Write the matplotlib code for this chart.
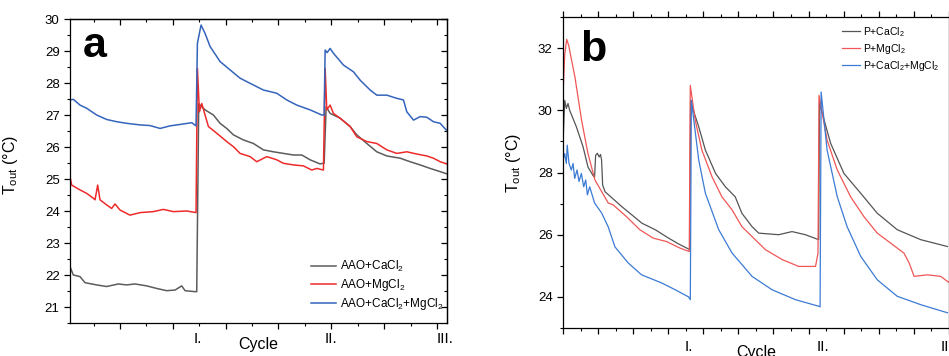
import matplotlib
matplotlib.use('Agg')
import matplotlib.pyplot as plt
from matplotlib.ticker import MultipleLocator, NullFormatter

plt.rcParams['font.family'] = ['Liberation Sans', 'DejaVu Sans']
plt.rcParams['mathtext.fontset'] = 'custom'
plt.rcParams['mathtext.rm'] = 'Liberation Sans'
plt.rcParams['mathtext.it'] = 'Liberation Sans:italic'
plt.rcParams['axes.linewidth'] = 0.9

# ---- panel a data (x: arbitrary time units, y: T_out in degC)
a_ca_x = [0.053, 0.116, 0.242, 0.337, 0.558, 0.747, 0.968, 1.126, 1.284, 1.505, 1.694, 1.884,
          2.042, 2.168, 2.231, 2.42, 2.452, 2.49, 2.515, 2.547, 2.61, 2.768, 2.894, 3.02, 3.146,
          3.336, 3.525, 3.715, 3.904, 4.093, 4.283, 4.441, 4.598, 4.788, 4.838, 4.864, 4.902,
          4.977, 5.167, 5.356, 5.482, 5.672, 5.861, 6.051, 6.303, 6.492, 6.682, 6.871, 7.061, 7.187]
a_ca_y = [22.26, 22.0, 21.95, 21.76, 21.69, 21.64, 21.72, 21.69, 21.72, 21.66, 21.58, 21.51,
          21.53, 21.66, 21.51, 21.48, 21.48, 27.35, 27.31, 27.26, 27.16, 27.0, 26.74, 26.58, 26.38,
          26.22, 26.11, 25.91, 25.85, 25.8, 25.75, 25.75, 25.6, 25.47, 25.49, 25.49, 27.26,
          27.05, 26.9, 26.64, 26.38, 26.11, 25.85, 25.72, 25.65, 25.54, 25.44, 25.33, 25.23, 25.16]

a_mg_x = [0.053, 0.085, 0.242, 0.369, 0.495, 0.527, 0.577, 0.621, 0.747, 0.842, 0.905, 1.0,
          1.189, 1.379, 1.631, 1.821, 2.01, 2.263, 2.439, 2.465, 2.503, 2.547, 2.61, 2.673,
          2.831, 3.02, 3.146, 3.273, 3.462, 3.588, 3.778, 3.967, 4.093, 4.283, 4.472, 4.63,
          4.725, 4.851, 4.883, 4.914, 4.977, 5.04, 5.167, 5.356, 5.482, 5.672, 5.861, 6.051,
          6.24, 6.429, 6.619, 6.808, 6.934, 7.061, 7.187]
a_mg_y = [25.07, 24.81, 24.66, 24.55, 24.4, 24.35, 24.81, 24.35, 24.19, 24.08, 24.22, 24.03,
          23.87, 23.95, 23.98, 24.05, 23.98, 24.0, 23.95, 28.46, 27.1, 27.36, 27.0, 26.64,
          26.43, 26.17, 26.01, 25.8, 25.7, 25.54, 25.7, 25.6, 25.49, 25.44, 25.41, 25.28,
          25.33, 25.28, 28.46, 27.16, 27.31, 27.05, 26.9, 26.64, 26.32, 26.17, 26.11, 25.91,
          25.8, 25.85, 25.78, 25.72, 25.65, 25.54, 25.47]

a_camg_x = [0.053, 0.116, 0.242, 0.369, 0.558, 0.747, 0.937, 1.126, 1.379, 1.568, 1.758, 1.947,
            2.2, 2.357, 2.439, 2.465, 2.534, 2.61, 2.705, 2.894, 3.083, 3.273, 3.462, 3.715,
            3.967, 4.157, 4.346, 4.598, 4.819, 4.864, 4.883, 4.92, 4.977, 5.04, 5.23, 5.419,
            5.545, 5.735, 5.861, 6.051, 6.24, 6.366, 6.429, 6.556, 6.682, 6.808, 6.934, 7.061, 7.187]
a_camg_y = [27.47, 27.49, 27.31, 27.21, 27.0, 26.86, 26.79, 26.74, 26.69, 26.67, 26.58, 26.66,
            26.72, 26.76, 26.66, 29.24, 29.81, 29.55, 29.14, 28.67, 28.41, 28.15, 27.99, 27.78,
            27.68, 27.47, 27.31, 27.16, 27.0, 27.0, 29.03, 28.95, 29.08, 28.93, 28.56, 28.35,
            28.09, 27.78, 27.62, 27.62, 27.52, 27.47, 27.1, 26.84, 26.95, 26.93, 26.79, 26.74, 26.51]

# ---- panel b data
b_ca_x = [0.0, 0.048, 0.095, 0.143, 0.19, 0.381, 0.571, 0.714, 0.857, 0.9, 0.93, 0.98, 1.03,
          1.07, 1.1, 1.13, 1.2, 1.68, 2.25, 2.63, 3.01, 3.3, 3.58, 3.61,
          3.638, 3.67, 3.87, 4.06, 4.35, 4.63, 4.91, 5.1, 5.39, 5.58, 6.15, 6.53, 6.91, 7.29,
          7.314, 7.34, 7.63, 8.01, 8.49, 8.96, 9.53, 10.2, 10.96]
b_ca_y = [28.93, 30.32, 30.06, 30.22, 30.0, 29.47, 28.83, 28.17, 27.9, 27.85, 28.55, 28.62, 28.5,
          28.58, 28.4, 27.6, 27.38, 26.9, 26.37, 26.16, 25.89, 25.7, 25.54, 25.52,
          30.32, 30.16, 29.47, 28.72, 27.97, 27.54, 27.22, 26.69, 26.26, 26.05, 26.0, 26.1, 26.0, 25.84,
          30.32, 30.11, 28.94, 27.97, 27.33, 26.69, 26.16, 25.84, 25.62]

b_mg_x = [0.0, 0.05, 0.105, 0.16, 0.34, 0.53, 0.71, 0.91, 1.29, 1.429, 1.81, 2.19, 2.571,
          2.952, 3.333, 3.6, 3.629, 3.77, 3.96, 4.25, 4.53, 4.82, 5.1, 5.39, 5.77, 6.25, 6.72,
          7.2, 7.27, 7.3, 7.53, 7.82, 8.2, 8.58, 8.96, 9.34, 9.72, 9.87, 10.01, 10.39, 10.77, 10.96, 11.0]
b_mg_y = [30.5, 31.8, 32.28, 32.1, 31.07, 29.68, 28.62, 27.76, 27.02, 26.96, 26.58, 26.16, 25.89,
          25.78, 25.57, 25.46, 30.8, 29.68, 28.72, 27.86, 27.22, 26.8, 26.26, 25.94, 25.52, 25.2, 24.98,
          24.98, 25.4, 30.48, 29.04, 28.08, 27.22, 26.58, 26.05, 25.73, 25.41, 25.09, 24.66, 24.71,
          24.66, 24.5, 24.47]

b_camg_x = [0.0, 0.048, 0.095, 0.12, 0.171, 0.238, 0.286, 0.333, 0.4, 0.457, 0.524, 0.59, 0.648,
            0.695, 0.762, 0.9, 1.1, 1.29, 1.48, 1.86, 2.24, 2.81, 3.2, 3.58, 3.63, 3.66, 3.87,
            4.06, 4.44, 4.82, 5.39, 5.96, 6.63, 7.29, 7.33, 7.36, 7.53, 7.82, 8.1, 8.49, 8.96,
            9.53, 10.2, 10.96]
b_camg_y = [28.4, 28.61, 28.29, 28.88, 28.29, 28.08, 28.29, 27.81, 28.08, 27.71, 27.97, 27.54,
            27.76, 27.28, 27.54, 27.02, 26.7, 26.25, 25.61, 25.09, 24.71, 24.45, 24.23, 24.0, 23.91,
            30.32, 28.4, 27.33, 26.16, 25.41, 24.66, 24.23, 23.91, 23.7, 23.68,
            30.59, 28.72, 27.22, 26.26, 25.3, 24.55, 24.02, 23.75, 23.49]

cycle_a = [2.47, 5.0, 7.15]
cycle_b = [3.6, 7.4, 11.0]
cycle_names = ['I.', 'II.', 'III.']

fig = plt.figure(figsize=(9.49, 3.56), dpi=100)

# ---------------- panel a
ax = fig.add_axes([70/949, 1-323/356, 377/949, 304/356])
ax.plot(a_ca_x, a_ca_y, color='#5c5c5c', lw=1.1, label='AAO+CaCl$_2$')
ax.plot(a_mg_x, a_mg_y, color='#ee2b2b', lw=1.1, label='AAO+MgCl$_2$')
ax.plot(a_camg_x, a_camg_y, color='#3464bb', lw=1.1, label='AAO+CaCl$_2$+MgCl$_2$')
ax.set_xlim(0.053, 7.19)
ax.set_ylim(20.5, 30)
ax.xaxis.set_major_locator(MultipleLocator(1))
ax.xaxis.set_minor_locator(MultipleLocator(0.5))
ax.xaxis.set_major_formatter(NullFormatter())
ax.yaxis.set_major_locator(MultipleLocator(1))
ax.yaxis.set_minor_locator(MultipleLocator(0.5))
ax.tick_params(which='major', direction='out', length=4, width=0.9, labelsize=9.5)
ax.tick_params(which='minor', direction='out', length=2.2, width=0.8)
# mirrored ticks pointing inward
top = ax.secondary_xaxis('top')
top.xaxis.set_major_locator(MultipleLocator(1))
top.xaxis.set_minor_locator(MultipleLocator(0.5))
top.tick_params(which='major', direction='in', length=4, width=0.9, labeltop=False)
top.tick_params(which='minor', direction='in', length=2.2, width=0.8)
right = ax.secondary_yaxis('right')
right.yaxis.set_major_locator(MultipleLocator(1))
right.yaxis.set_minor_locator(MultipleLocator(0.5))
right.tick_params(which='major', direction='in', length=4, width=0.9, labelright=False)
right.tick_params(which='minor', direction='in', length=2.2, width=0.8)

for x, name in zip(cycle_a, cycle_names):
    ax.text(x, -0.053, name, transform=ax.get_xaxis_transform(), ha='center', va='center', fontsize=11)
ax.text(3.61, -0.072, 'Cycle', transform=ax.get_xaxis_transform(), ha='center', va='center', fontsize=11.5)
ax.set_ylabel(r'$\mathrm{T_{out}}$ (°C)', fontsize=11.5)
ax.yaxis.set_label_coords(-0.133, 0.52)
ax.text(0.035, 0.875, 'a', transform=ax.transAxes, fontsize=31, fontweight='bold', va='baseline')
ax.legend(loc='lower left', bbox_to_anchor=(0.64, 0.035), frameon=False, fontsize=8.5,
          handlelength=2.1, handletextpad=0.3, labelspacing=0.25, borderpad=0, borderaxespad=0)

# ---------------- panel b
bx = fig.add_axes([563/949, 1-328/356, 385.8/949, 311/356])
bx.plot(b_ca_x, b_ca_y, color='#555555', lw=0.9, label='P+CaCl$_2$')
bx.plot(b_mg_x, b_mg_y, color='#f05656', lw=0.9, label='P+MgCl$_2$')
bx.plot(b_camg_x, b_camg_y, color='#3b7bd4', lw=0.9, label='P+CaCl$_2$+MgCl$_2$')
bx.set_xlim(0, 11)
bx.set_ylim(23, 33)
bx.xaxis.set_major_locator(MultipleLocator(1))
bx.xaxis.set_minor_locator(MultipleLocator(0.5))
bx.xaxis.set_major_formatter(NullFormatter())
bx.yaxis.set_major_locator(MultipleLocator(2))
bx.yaxis.set_minor_locator(MultipleLocator(1))
bx.tick_params(which='major', direction='out', length=4, width=0.9, labelsize=9.5, top=True)
bx.tick_params(which='minor', direction='out', length=2.2, width=0.8, top=True)

for x, name in zip(cycle_b, cycle_names):
    bx.text(x, -0.061, name, transform=bx.get_xaxis_transform(), ha='center', va='center', fontsize=11)
bx.text(5.5, -0.055, 'Cycle', transform=bx.get_xaxis_transform(), ha='center', va='top', fontsize=11.5)
bx.set_ylabel(r'$\mathrm{T_{out}}$ (°C)', fontsize=11.5)
bx.yaxis.set_label_coords(-0.104, 0.53)
bx.text(0.045, 0.859, 'b', transform=bx.transAxes, fontsize=31, fontweight='bold', va='baseline')
bx.legend(loc='upper left', bbox_to_anchor=(0.722, 0.975), frameon=False, fontsize=7.5,
          handlelength=1.75, handletextpad=0.3, labelspacing=0.3, borderpad=0, borderaxespad=0)

fig.savefig('out.png', dpi=100)
